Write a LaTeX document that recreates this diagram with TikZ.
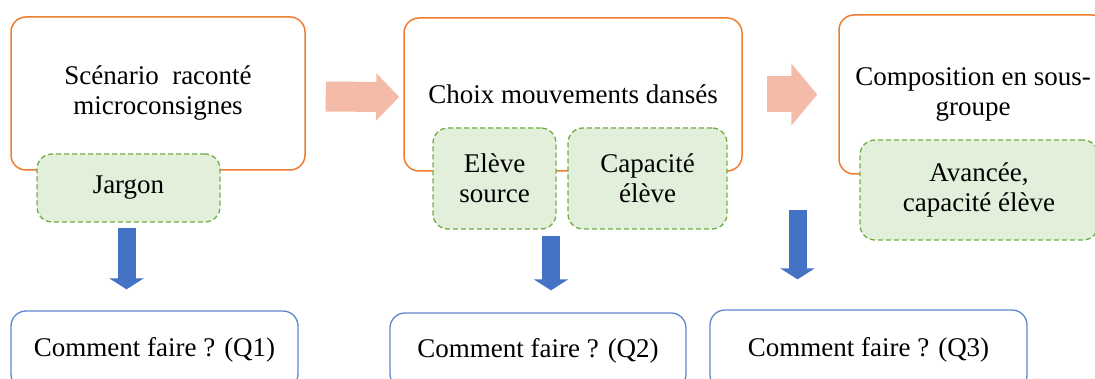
\documentclass[tikz,border=0pt]{standalone}
\usepackage{fontspec}
\setmainfont{Liberation Serif}
\usetikzlibrary{positioning, arrows.meta, calc}
\definecolor{cStep}{HTML}{ED7D31}
\definecolor{cHint}{HTML}{70AD47}
\definecolor{cHintFill}{HTML}{E2EFDA}
\definecolor{cFlow}{HTML}{F4BBA8}
\definecolor{cAsk}{HTML}{4472C4}

\begin{document}
\begin{tikzpicture}[
    x=1pt, y=1pt,
    txt/.style={font=\fontsize{27}{30}\selectfont, align=center, inner sep=0pt},
    stepbox/.style={txt, draw=cStep, line width=1.5pt, rounded corners=15pt, fill=white},
    hintbox/.style={txt, draw=cHint, fill=cHintFill, line width=1.3pt, dash pattern=on 5pt off 3pt, rounded corners=15pt},
    askbox/.style={txt, draw=cAsk!85, line width=1.3pt, rounded corners=15pt},
    flow/.style={draw=cFlow, line width=#1},
    down/.style={draw=cAsk, line width=18pt, -{Triangle[length=11pt, width=34pt]}}
  ]
    \path[use as bounding box, clip] (0,0) rectangle (1095,-379);

    \node[stepbox, minimum width=294pt, minimum height=153pt] (scen) at (158,-93.5) {Scénario\ \ raconté\\microconsignes};
    \node[stepbox, minimum width=338pt, minimum height=153pt] (choix) at (573,-94.5) {Choix mouvements dansés};
    \node[stepbox, minimum width=268pt, minimum height=159pt] (compo) at (973,-94.5) {Composition en sous-\\groupe};

    \node[hintbox, minimum width=183pt, minimum height=68pt] (jargon) at (128.5,-188) {Jargon};
    \node[hintbox, minimum width=123pt, minimum height=101pt] (source) at (494.5,-178.5) {Elève\\source};
    \node[hintbox, minimum width=159pt, minimum height=101pt] (capa) at (647.5,-178.5) {Capacité\\élève};
    \node[hintbox, minimum width=238pt, minimum height=100pt] (avance) at (979,-190) {Avancée,\\capacité élève};

    \node[askbox, minimum width=287pt, minimum height=78pt] (q1) at (154.5,-350) {Comment faire ? (Q1)};
    \node[askbox, minimum width=296pt, minimum height=76pt] (q2) at (538,-351) {Comment faire ? (Q2)};
    \node[askbox, minimum width=317pt, minimum height=80pt] (q3) at (868.5,-350) {Comment faire ? (Q3)};

    \draw[flow=30pt, -{Triangle[length=23pt, width=46pt]}, shorten <=20pt, shorten >=4pt]
      ([yshift=-3pt]scen.east) -- ([yshift=-2.5pt]choix.west);
    \draw[flow=36pt, -{Triangle[length=26pt, width=61pt]}, shorten <=24pt, shorten >=21pt]
      (choix.east) -- (compo.west);

    \coordinate (c1) at ([xshift=-2pt]jargon.south);
    \coordinate (c2) at (551,-229);
    \coordinate (c3) at (797.5,-210);
    \draw[down, shorten <=5pt, shorten >=21pt] (c1) -- (c1 |- q1.north);
    \draw[down, shorten <=7pt, shorten >=22pt] (c2) -- (c2 |- q2.north);
    \draw[down, shorten >=30pt] (c3) -- (c3 |- q3.north);
  \end{tikzpicture}
\end{document}
